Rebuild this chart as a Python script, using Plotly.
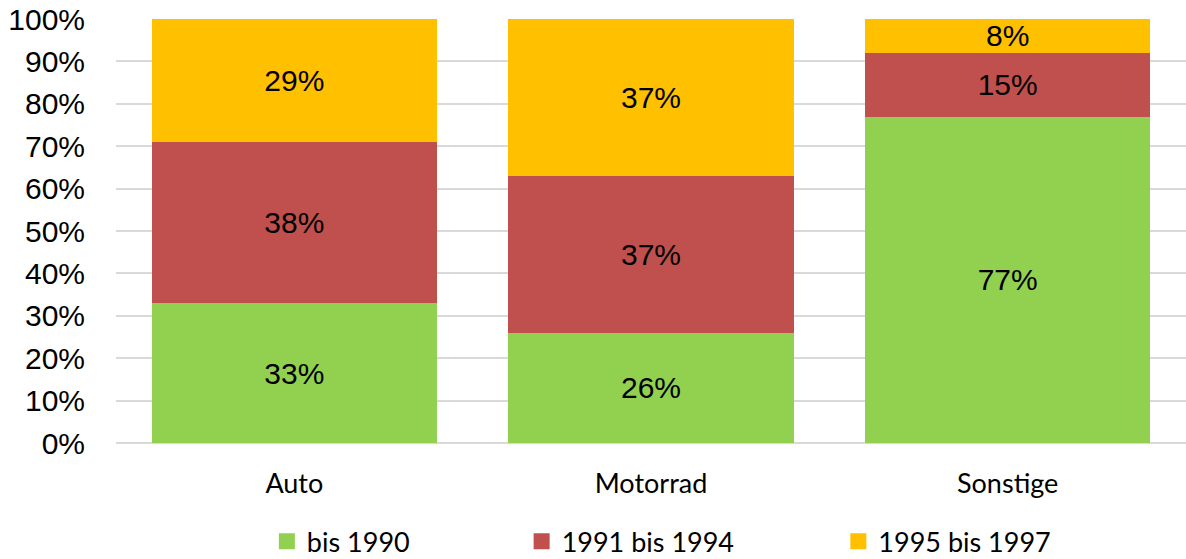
import plotly.graph_objects as go

# Fahrzeugtypen und Anteile je Baujahresgruppe
categories = ["Auto", "Motorrad", "Sonstige"]
series_names = ["bis 1990", "1991 bis 1994", "1995 bis 1997"]
share_bis_1990 = [33, 26, 77]
share_1991_1994 = [38, 37, 15]
share_1995_1997 = [29, 37, 8]
y_ticks = [0, 10, 20, 30, 40, 50, 60, 70, 80, 90, 100]

series_values = [share_bis_1990, share_1991_1994, share_1995_1997]
colors = ["#92D050", "#C0504D", "#FFC000"]

label_font = dict(family="Liberation Sans, Arial, sans-serif", size=30, color="#000000")
cat_font = dict(family="Lato, Calibri, sans-serif", size=27, color="#000000")

fig = go.Figure()

for name, vals, col in zip(series_names, series_values, colors):
    fig.add_trace(go.Bar(
        x=categories,
        y=[v / 100 for v in vals],
        name=name,
        marker=dict(color=col, line=dict(width=0)),
        text=[f"{v}%" for v in vals],
        textposition="inside",
        insidetextanchor="middle",
        textfont=label_font,
        showlegend=False,
        hoverinfo="skip",
    ))

# Legend entries with larger square swatches, one legend per series
legend_ids = ["legend", "legend2", "legend3"]
legend_x = [0.1410, 0.3791, 0.6751]
for name, col, lid in zip(series_names, colors, legend_ids):
    fig.add_trace(go.Scatter(
        x=[None], y=[None],
        mode="markers",
        marker=dict(symbol="square", size=16, color=col),
        name=name,
        legend=lid,
        showlegend=True,
    ))

legend_common = dict(
    orientation="h",
    xanchor="left",
    yanchor="middle",
    yref="container",
    y=0.031,
    font=cat_font,
    bgcolor="rgba(0,0,0,0)",
    borderwidth=0,
    itemsizing="trace",
)

fig.update_layout(
    barmode="stack",
    bargap=0.2,
    width=1186,
    height=559,
    margin=dict(l=116, r=0, t=19, b=116),
    paper_bgcolor="#FFFFFF",
    plot_bgcolor="#FFFFFF",
    uniformtext=dict(minsize=30, mode="show"),
    legend=dict(x=legend_x[0], **legend_common),
    legend2=dict(x=legend_x[1], **legend_common),
    legend3=dict(x=legend_x[2], **legend_common),
    xaxis=dict(
        type="category",
        tickfont=cat_font,
        showgrid=False,
        showline=False,
        ticks="",
        ticklabelstandoff=22,
        automargin=False,
    ),
    yaxis=dict(
        range=[0, 1],
        tickvals=[t / 100 for t in y_ticks],
        ticktext=[f"{t}%" for t in y_ticks],
        tickfont=label_font,
        showgrid=True,
        gridcolor="#D9D9D9",
        gridwidth=1.5,
        zeroline=True,
        zerolinecolor="#D9D9D9",
        zerolinewidth=1.5,
        showline=False,
        ticks="",
        ticklabelstandoff=30,
        automargin=False,
    ),
)

fig.write_html("out.html")
